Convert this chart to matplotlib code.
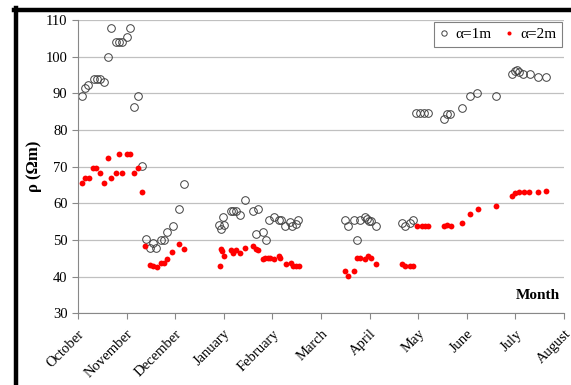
import matplotlib
matplotlib.use("Agg")
import matplotlib.pyplot as plt
from matplotlib.lines import Line2D

plt.rcParams['font.family'] = ['Liberation Serif', 'DejaVu Serif']

months = ["October", "November", "December", "January", "February", "March",
          "April", "May", "June", "July", "August"]

# position in months counted from 1 October
pos_1m = [0.08, 0.14, 0.21, 0.32, 0.39, 0.45, 0.54, 0.61, 0.68, 0.78, 0.84, 0.91,
          1.01, 1.08, 1.15, 1.24, 1.31, 1.39, 1.48, 1.55, 1.61, 1.70, 1.77, 1.84,
          1.95, 2.07, 2.18,
          2.90, 2.94, 2.98, 3.01, 3.14, 3.20, 3.25, 3.34, 3.43, 3.60, 3.67, 3.71,
          3.80, 3.87, 3.93, 4.04, 4.14, 4.18, 4.27, 4.36, 4.41, 4.49, 4.53,
          5.50, 5.56, 5.67, 5.74, 5.80, 5.90, 5.94, 5.99, 6.04, 6.14,
          6.66, 6.73, 6.83, 6.90, 6.96, 7.04, 7.12, 7.20, 7.54, 7.59, 7.65, 7.90,
          8.07, 8.22, 8.60, 8.94, 8.99, 9.04, 9.08, 9.16, 9.30, 9.46, 9.63]
rho_1m = [89.2, 91.5, 92.2, 93.9, 93.9, 93.9, 93.1, 100.0, 107.7, 103.9, 103.9, 103.9,
          105.4, 107.7, 86.2, 89.2, 70.1, 50.2, 47.7, 49.3, 47.7, 50.1, 50.1, 52.3,
          53.8, 58.5, 65.4,
          54.2, 53.0, 56.2, 54.0, 57.8, 57.8, 57.8, 56.9, 60.8, 57.8, 51.6, 58.5,
          52.3, 49.9, 55.4, 56.2, 55.4, 55.4, 53.9, 54.8, 53.9, 54.5, 55.4,
          55.4, 53.9, 55.4, 49.9, 55.4, 56.3, 55.7, 55.2, 55.2, 53.9,
          54.7, 53.8, 54.6, 55.4, 84.7, 84.7, 84.7, 84.7, 83.1, 84.5, 84.5, 86.1,
          89.2, 90.1, 89.2, 95.4, 96.1, 96.3, 95.7, 95.4, 95.4, 94.5, 94.5]

pos_2m = [0.08, 0.14, 0.22, 0.30, 0.37, 0.45, 0.54, 0.61, 0.68, 0.78, 0.85, 0.91,
          1.01, 1.08, 1.15, 1.24, 1.31, 1.38, 1.48, 1.54, 1.62, 1.71, 1.77, 1.84,
          1.94, 2.08, 2.18,
          2.92, 2.94, 2.97, 3.01, 3.14, 3.18, 3.25, 3.34, 3.44, 3.60, 3.66, 3.70,
          3.80, 3.85, 3.91, 3.95, 4.03, 4.13, 4.16, 4.28, 4.38, 4.42, 4.49, 4.54,
          5.50, 5.56, 5.67, 5.74, 5.80, 5.91, 5.97, 6.04, 6.14,
          6.66, 6.73, 6.83, 6.90, 6.97, 7.07, 7.14, 7.21, 7.53, 7.60, 7.67, 7.90,
          8.07, 8.23, 8.60, 8.93, 8.99, 9.07, 9.18, 9.29, 9.46, 9.63]
rho_2m = [65.6, 67.0, 67.0, 69.6, 69.6, 68.3, 65.6, 72.3, 67.0, 68.3, 73.6, 68.3,
          73.6, 73.6, 68.3, 69.6, 63.0, 48.3, 43.3, 43.0, 42.6, 43.7, 43.7, 44.7,
          46.7, 48.8, 47.6,
          42.8, 47.6, 47.0, 45.6, 47.2, 46.4, 47.2, 46.4, 47.9, 48.3, 47.6, 47.4,
          44.8, 45.0, 45.0, 45.0, 44.8, 45.7, 45.0, 43.6, 43.7, 43.0, 42.8, 42.8,
          41.6, 40.2, 41.6, 45.2, 45.2, 44.8, 45.7, 45.0, 43.6,
          43.6, 43.0, 43.0, 43.0, 53.7, 53.7, 53.7, 53.9, 53.8, 54.1, 53.8, 54.7,
          57.2, 58.4, 59.2, 61.9, 62.8, 63.0, 63.0, 63.1, 63.1, 63.4]

fig = plt.figure(figsize=(5.71, 3.85), dpi=100)
ax = fig.add_axes([0.1366, 0.186, 0.851, 0.762])

ax.plot(pos_1m, rho_1m, linestyle='none', marker='o', markersize=5.5,
        markerfacecolor='none', markeredgecolor='#404040', markeredgewidth=0.7,
        label='α=1m')
ax.plot(pos_2m, rho_2m, linestyle='none', marker='o', markersize=4.2,
        markerfacecolor='#ff0000', markeredgecolor='#ff0000', markeredgewidth=0,
        label='α=2m')

ax.set_xlim(0, 10)
ax.set_ylim(30, 110)
ax.set_xticks(range(len(months)))
ax.set_xticklabels(months, rotation=45, ha='right', rotation_mode='anchor')
ax.set_yticks(range(30, 111, 10))
ax.tick_params(axis='both', labelsize=10.5, color='#888888', length=4, width=0.8)
ax.tick_params(axis='x', pad=6)

ax.yaxis.grid(True, color='#c0c0c0', linewidth=0.9)
ax.set_axisbelow(True)
for side in ['top', 'right']:
    ax.spines[side].set_visible(False)
for side in ['left', 'bottom']:
    ax.spines[side].set_color('#888888')
    ax.spines[side].set_linewidth(0.8)

ax.set_ylabel('ρ (Ωm)', fontsize=12, fontweight='bold', labelpad=3)
ax.text(0.946, 0.062, 'Month', transform=ax.transAxes, ha='center', va='center',
        fontsize=11, fontweight='bold')

leg = ax.legend(loc='upper right', bbox_to_anchor=(1.0, 1.0), borderaxespad=0.15,
                ncol=2, fontsize=11, frameon=True, fancybox=False,
                edgecolor='#808080', framealpha=1,
                handlelength=0.6, handletextpad=0.4, columnspacing=0.9,
                borderpad=0.35, markerscale=0.7)
leg.get_frame().set_linewidth(0.8)

# heavy border on the top and left edges
fig.add_artist(Line2D([14 / 571, 1.0], [1 - 9.5 / 385, 1 - 9.5 / 385],
                      color='black', linewidth=3.2, transform=fig.transFigure))
fig.add_artist(Line2D([15.5 / 571, 15.5 / 571], [0.0, 1 - 8 / 385],
                      color='black', linewidth=3.2, transform=fig.transFigure))

fig.savefig('out.png', dpi=100)
